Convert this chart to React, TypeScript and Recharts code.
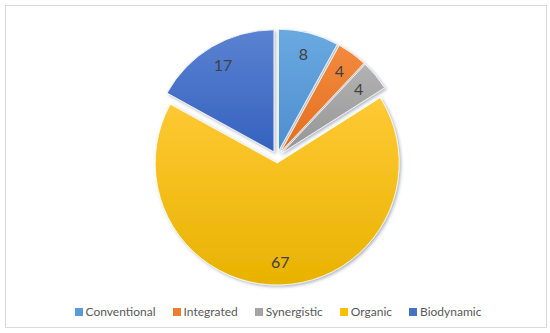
import React from "react";
import { PieChart, Pie, Cell, Legend } from "recharts";

const categories = ["Conventional", "Integrated", "Synergistic", "Organic", "Biodynamic"];
const shares = [8, 4, 4, 67, 17];

const COLORS: Record<string, [string, string, string]> = {
  Conventional: ["#6AA9E0", "#4E8ED0", "#5B9BD5"],
  Integrated: ["#F38A3E", "#E26F20", "#ED7D31"],
  Synergistic: ["#B2B2B2", "#959595", "#A5A5A5"],
  Organic: ["#FFCA35", "#E8B200", "#FFC000"],
  Biodynamic: ["#5B82D2", "#3462BD", "#4472C4"],
};

const EXPLODE = 6;
const RADIUS = 122;
const total = shares.reduce((a, b) => a + b, 0);

const data = categories.map((name, i) => ({ name, value: shares[i] }));

// bisector of each slice, clockwise from 12 o'clock
function midCompass(i: number) {
  const before = shares.slice(0, i).reduce((a, b) => a + b, 0);
  return ((before + shares[i] / 2) / total) * 360;
}

function offset(i: number) {
  const a = (midCompass(i) * Math.PI) / 180;
  return { dx: EXPLODE * Math.sin(a), dy: -EXPLODE * Math.cos(a) };
}

const slug = (s: string) => "grad-" + s.toLowerCase();

const renderLabel = (props: any) => {
  const { cx, cy, midAngle, outerRadius, value, index } = props;
  const rad = (-midAngle * Math.PI) / 180;
  const { dx, dy } = offset(index);
  const r = outerRadius - 22;
  const x = cx + dx + r * Math.cos(rad);
  const y = cy + dy + r * Math.sin(rad);
  return (
    <text
      x={x}
      y={y - 1}
      fill="#404040"
      fontSize={16}
      fontFamily="Lato, 'Open Sans', sans-serif"
      textAnchor="middle"
      dominantBaseline="central"
    >
      {value}
    </text>
  );
};

const renderLegend = () => (
  <div
    style={{
      display: "flex",
      justifyContent: "center",
      paddingLeft: 23,
      fontFamily: "Lato, 'Open Sans', sans-serif",
      fontSize: 12,
      color: "#595959",
    }}
  >
    {categories.map((name) => (
      <div key={name} style={{ display: "flex", alignItems: "center", marginRight: 17 }}>
        <span
          style={{
            width: 8,
            height: 8,
            background: COLORS[name][2],
            marginRight: 3,
            display: "inline-block",
          }}
        />
        <span>{name}</span>
      </div>
    ))}
  </div>
);

export default function App() {
  return (
    <div style={{ position: "absolute", left: 0, top: 0, width: 550, height: 333, background: "#fff" }}>
      <div
        style={{
          position: "absolute",
          left: 5,
          top: 5,
          width: 540,
          height: 321,
          border: "1.5px solid #d9d9d9",
        }}
      />
      <PieChart width={550} height={333} margin={{ top: 0, right: 0, bottom: 0, left: 0 }}>
        <defs>
          {categories.map((name) => (
            <linearGradient key={name} id={slug(name)} x1="0" y1="0" x2="0" y2="1">
              <stop offset="0%" stopColor={COLORS[name][0]} />
              <stop offset="100%" stopColor={COLORS[name][1]} />
            </linearGradient>
          ))}
          <filter id="shadow" x="-20%" y="-20%" width="140%" height="140%">
            <feDropShadow dx="1.5" dy="1.5" stdDeviation="1.4" floodColor="#4a5a7a" floodOpacity="0.45" />
          </filter>
        </defs>
        <Pie
          data={data}
          dataKey="value"
          nameKey="name"
          cx={277}
          cy={157}
          outerRadius={RADIUS}
          startAngle={90}
          endAngle={-270}
          stroke="#ffffff"
          strokeWidth={0.8}
          label={renderLabel}
          labelLine={false}
          isAnimationActive={false}
        >
          {data.map((entry, i) => {
            const { dx, dy } = offset(i);
            return (
              <Cell
                key={entry.name}
                fill={`url(#${slug(entry.name)})`}
                transform={`translate(${dx.toFixed(2)}, ${dy.toFixed(2)})`}
                filter="url(#shadow)"
              />
            );
          })}
        </Pie>
        <Legend
          content={renderLegend}
          wrapperStyle={{ position: "absolute", left: 0, top: 304, width: 550 }}
        />
      </PieChart>
    </div>
  );
}
